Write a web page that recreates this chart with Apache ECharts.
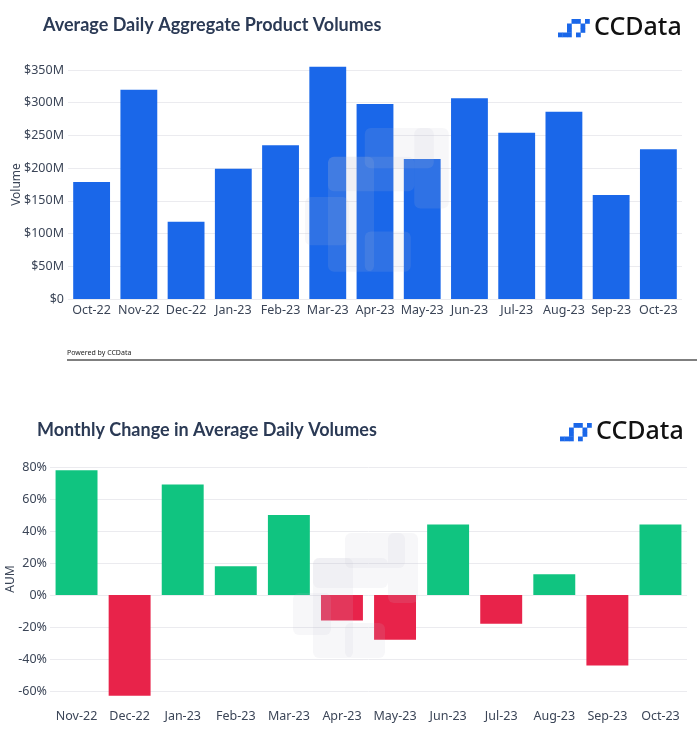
<!DOCTYPE html>
<html><head><meta charset="utf-8">
<script src="https://cdn.jsdelivr.net/npm/echarts@6/dist/echarts.min.js"></script>
<style>html,body{margin:0;padding:0;background:#fff;}#c{width:700px;height:736px;}</style>
</head><body><div id="c"></div>
<script>
const volCategories = ['Oct-22','Nov-22','Dec-22','Jan-23','Feb-23','Mar-23','Apr-23','May-23','Jun-23','Jul-23','Aug-23','Sep-23','Oct-23'];
const volValues = [179, 320, 118, 199, 235, 355, 298, 214, 307, 254, 286, 159, 229]; // $M
const chgCategories = ['Nov-22','Dec-22','Jan-23','Feb-23','Mar-23','Apr-23','May-23','Jun-23','Jul-23','Aug-23','Sep-23','Oct-23'];
const chgValues = [78, -63, 69, 18, 50, -16, -28, 44, -18, 13, -44, 44]; // %
const title1 = 'Average Daily Aggregate Product Volumes';
const title2 = 'Monthly Change in Average Daily Volumes';

const FONT = '"Noto Sans", sans-serif';
const BLUE = '#1a67e9', GREEN = '#10c480', RED = '#e8234a';
const LBL = '#3b4557', GRID = '#ebebef';

function logo(x, y) {
  const c = BLUE, s = 4.5;
  const cells = [[3,0],[4,0],[6,0],[2,1],[5,1],[2,2],[5,2],[0,3],[1,3],[2,3],[4,3]];
  const els = cells.map(p => ({type:'rect', shape:{x:x+p[0]*s, y:y+p[1]*s, width:s+0.3, height:s+0.3}, style:{fill:c}}));
  els.push({type:'text', x:x+36, y:y-4, style:{text:'CCData', fill:'#111', font:'500 25px "Noto Sans", sans-serif'}});
  return els;
}
function watermark(x, y, sc) {
  const f = 'rgba(190,196,210,0.13)';
  const r = [[0,60,38,42],[20,25,40,100],[52,0,60,35],[95,0,30,70],[52,90,40,35],[20,25,75,30]];
  return r.map(a => ({type:'rect', z:100, shape:{x:x+a[0]*sc, y:y+a[1]*sc, width:a[2]*sc, height:a[3]*sc, r:6}, style:{fill:f}}));
}

const chart = echarts.init(document.getElementById('c'), null, {renderer:'canvas'});
chart.setOption({
  animation:false,
  title:[
    {text:title1, left:38, top:11, textStyle:{fontFamily:'Lato, sans-serif', fontSize:18, fontWeight:700, color:'#2b3a55'}},
    {text:title2, left:32, top:416, textStyle:{fontFamily:'Lato, sans-serif', fontSize:18, fontWeight:700, color:'#2b3a55'}}
  ],
  grid:[
    {left:68, right:18, top:70, height:229, outerBoundsMode:'none', containLabel:false},
    {left:50, right:13, top:467, height:224, outerBoundsMode:'none', containLabel:false}
  ],
  xAxis:[
    {type:'category', gridIndex:0, data:volCategories, axisLine:{show:false}, axisTick:{show:false},
     axisLabel:{color:LBL, fontFamily:FONT, fontSize:12.5, margin:5, interval:0}},
    {type:'category', gridIndex:1, data:chgCategories, position:'bottom', axisLine:{show:false, onZero:false}, axisTick:{show:false},
     axisLabel:{color:LBL, fontFamily:FONT, fontSize:12.5, margin:19, interval:0}}
  ],
  yAxis:[
    {type:'value', gridIndex:0, min:0, max:350, interval:50, name:'Volume', nameLocation:'middle', nameGap:45, nameMoveOverlap:false,
     nameTextStyle:{color:LBL, fontFamily:FONT, fontSize:12},
     axisLabel:{color:LBL, fontFamily:FONT, fontSize:12.5, margin:4, formatter:v => '$' + v + (v ? 'M' : '')},
     splitLine:{lineStyle:{color:GRID}}},
    {type:'value', gridIndex:1, min:-60, max:80, interval:20, name:'AUM', nameLocation:'middle', nameGap:33, nameMoveOverlap:false,
     nameTextStyle:{color:LBL, fontFamily:FONT, fontSize:12},
     axisLabel:{color:LBL, fontFamily:FONT, fontSize:12.5, margin:3, formatter:v => v + '%'},
     splitLine:{lineStyle:{color:GRID}}}
  ],
  series:[
    {type:'bar', xAxisIndex:0, yAxisIndex:0, data:volValues, barWidth:'78%', clip:false, itemStyle:{color:BLUE}},
    {type:'bar', xAxisIndex:1, yAxisIndex:1, barWidth:'79%', clip:false,
     data:chgValues.map(v => ({value:v, itemStyle:{color: v >= 0 ? GREEN : RED}}))}
  ],
  graphic:[
    ...logo(558, 19),
    ...logo(560, 423),
    {type:'text', left:67, top:349, style:{text:'Powered by CCData', fill:'#222', font:'7px "Noto Sans", sans-serif'}},
    {type:'line', shape:{x1:67, y1:360, x2:697, y2:360}, style:{stroke:'#555', lineWidth:1.5}},
    ...watermark(305, 128, 1.15),
    ...watermark(293, 533, 1.0)
  ]
});
</script></body></html>
